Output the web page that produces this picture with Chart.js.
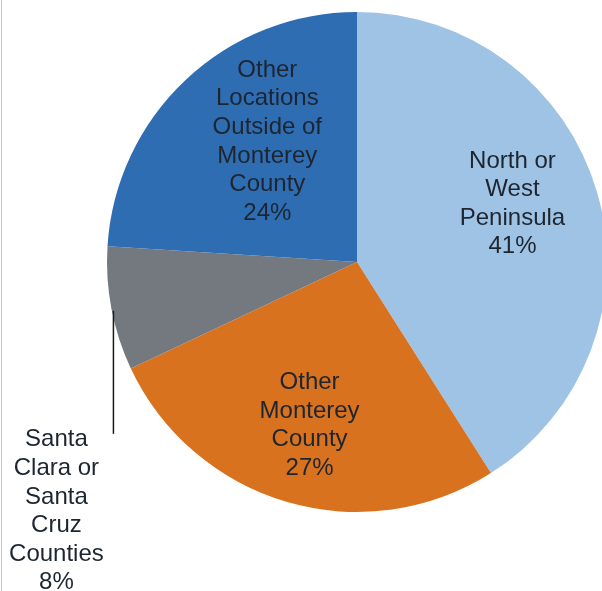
<!DOCTYPE html>
<html>
<head>
<meta charset="utf-8">
<script src="https://cdn.jsdelivr.net/npm/chart.js@4"></script>
<style>
  html, body { margin: 0; padding: 0; background: #fff; overflow: hidden; }
  #wrap { position: relative; width: 602px; height: 591px; }
  #edge { position: absolute; left: 1px; top: 0; width: 1px; height: 591px; background: #c8c8c8; }
  canvas { display: block; }
</style>
</head>
<body>
<div id="wrap">
  <canvas id="chart" width="602" height="591"></canvas>
  <div id="edge"></div>
</div>
<script>
// Where respondents live (share of total, %)
const categories = [
  ['North or', 'West', 'Peninsula'],
  ['Other', 'Monterey', 'County'],
  ['Santa', 'Clara or', 'Santa', 'Cruz', 'Counties'],
  ['Other', 'Locations', 'Outside of', 'Monterey', 'County']
];
const shares = [41, 27, 8, 24];
const sliceColors = ['#9fc3e4', '#d9721e', '#747980', '#2f6db3'];

// Label placement: radial fraction of the radius plus a small nudge (px);
// the small slice gets an outside label with a leader line instead.
const labelPlacement = [
  { r: 0.66, dx: -3, dy: -12 },
  { r: 0.68, dx: 0, dy: 0 },
  { outside: true, lineLength: 123, textDx: -57, gap: 6 },
  { r: 0.60, dx: 13, dy: -11 }
];

const FONT = '24px "Liberation Sans", Arial, sans-serif';
const LINE_H = 28.6;
const TEXT_COLOR = '#1d2530';

const sliceLabels = {
  id: 'sliceLabels',
  afterDatasetsDraw(chart) {
    const ctx = chart.ctx;
    const meta = chart.getDatasetMeta(0);
    ctx.save();
    ctx.font = FONT;
    ctx.textAlign = 'center';
    ctx.textBaseline = 'middle';
    meta.data.forEach((arc, i) => {
      const p = arc.getProps(['x', 'y', 'startAngle', 'endAngle', 'outerRadius'], true);
      const mid = (p.startAngle + p.endAngle) / 2;
      const lines = categories[i].concat([shares[i] + '%']);
      const cfg = labelPlacement[i];
      if (cfg.outside) {
        const ex = p.x + Math.cos(mid) * p.outerRadius + 2;
        const ey = p.y + Math.sin(mid) * p.outerRadius + 2;
        ctx.strokeStyle = '#1a1a1a';
        ctx.lineWidth = 1.5;
        ctx.beginPath();
        ctx.moveTo(ex, ey);
        ctx.lineTo(ex, ey + cfg.lineLength);
        ctx.stroke();
        const tx = ex + cfg.textDx;
        const top = ey + cfg.lineLength + cfg.gap;
        ctx.fillStyle = TEXT_COLOR;
        lines.forEach((t, k) => ctx.fillText(t, tx, top + k * LINE_H));
      } else {
        const cx = p.x + Math.cos(mid) * p.outerRadius * cfg.r + cfg.dx;
        const cy = p.y + Math.sin(mid) * p.outerRadius * cfg.r + cfg.dy;
        const top = cy - (lines.length - 1) * LINE_H / 2;
        ctx.fillStyle = TEXT_COLOR;
        lines.forEach((t, k) => ctx.fillText(t, cx, top + k * LINE_H));
      }
    });
    ctx.restore();
  }
};

new Chart(document.getElementById('chart'), {
  type: 'pie',
  data: {
    labels: categories.map(c => c.join(' ')),
    datasets: [{
      data: shares,
      backgroundColor: sliceColors,
      borderWidth: 0,
      radius: 250,
      clip: false
    }]
  },
  options: {
    responsive: false,
    animation: false,
    layout: { padding: { left: 112, right: 0, top: 0, bottom: 67 } },
    plugins: {
      legend: { display: false },
      tooltip: { enabled: false }
    }
  },
  plugins: [sliceLabels]
});
</script>
</body>
</html>
